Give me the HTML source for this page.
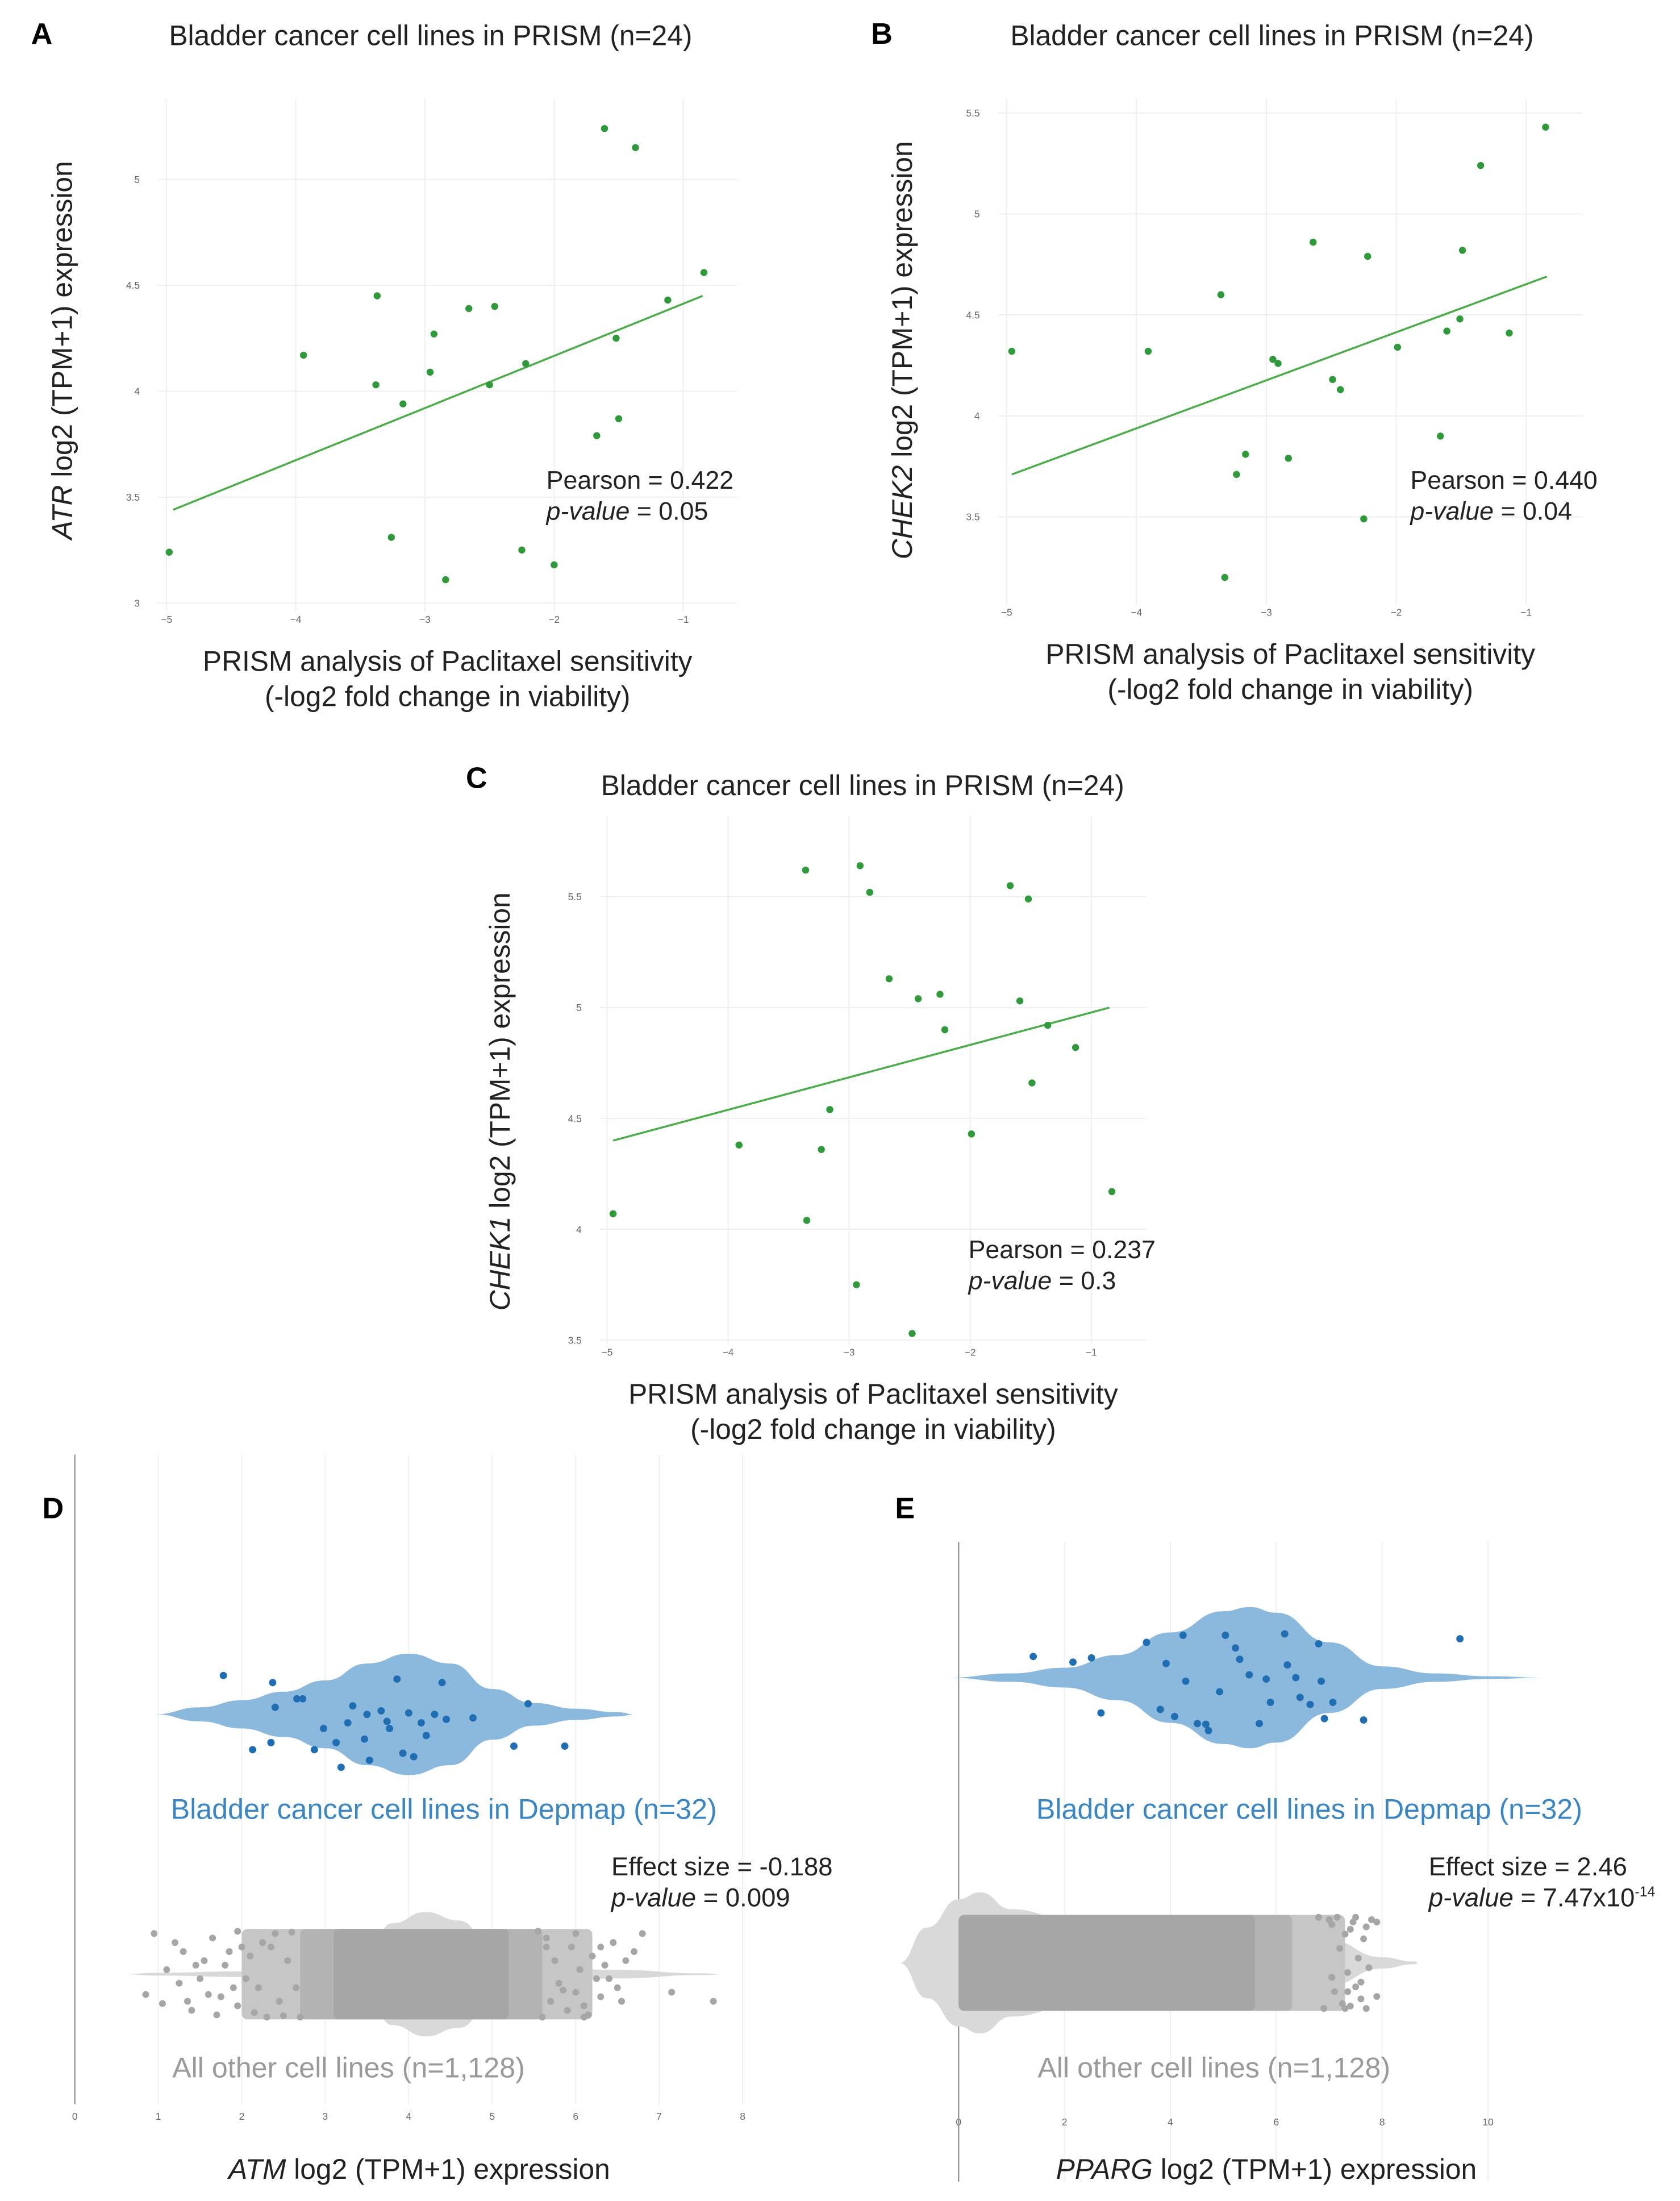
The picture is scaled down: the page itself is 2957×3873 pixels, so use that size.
<!DOCTYPE html>
<html><head><meta charset="utf-8">
<style>
html,body{margin:0;padding:0;background:#fff;}
svg{display:block;font-family:"Liberation Sans",Arial,sans-serif;}
</style></head>
<body>
<svg id="fig" width="2957" height="3873" viewBox="0 0 1190 1558.6" xmlns="http://www.w3.org/2000/svg">
<rect width="1190" height="1558.6" fill="#fff"/>
<text x="22" y="31" font-size="21" font-weight="bold">A</text>
<text x="617" y="31" font-size="21" font-weight="bold">B</text>
<text x="330" y="558" font-size="21" font-weight="bold">C</text>
<text x="30" y="1075" font-size="21" font-weight="bold">D</text>
<text x="634" y="1075" font-size="21" font-weight="bold">E</text>
<text x="305" y="32" font-size="20" text-anchor="middle" fill="#222">Bladder cancer cell lines in PRISM (n=24)</text>
<text x="901" y="32" font-size="20" text-anchor="middle" fill="#222">Bladder cancer cell lines in PRISM (n=24)</text>
<text x="611" y="563" font-size="20" text-anchor="middle" fill="#222">Bladder cancer cell lines in PRISM (n=24)</text>
<g id="layer"></g>
</svg>
<script>
// ---------- Panel A data ----------
const aX=[-4.98,-3.94,-3.37,-3.38,-3.17,-3.26,-2.93,-2.96,-2.84,-2.66,-2.46,-2.50,-2.22,-2.25,-2.00,-1.61,-1.37,-1.52,-1.50,-1.67,-1.12,-0.84];
const aY=[3.24,4.17,4.45,4.03,3.94,3.31,4.27,4.09,3.11,4.39,4.40,4.03,4.13,3.25,3.18,5.24,5.15,4.25,3.87,3.79,4.43,4.56];
const aFit=[[-4.95,3.44],[-0.85,4.45]];
const aXTicks=[-5,-4,-3,-2,-1];
const aYTicks=[3,3.5,4,4.5,5];
const aYTickLabels=["3","3.5","4","4.5","5"];
// ---------- Panel B data ----------
const bX=[-4.96,-3.91,-3.35,-3.32,-3.23,-3.16,-2.95,-2.91,-2.83,-2.64,-2.49,-2.43,-2.25,-2.22,-1.99,-1.66,-1.61,-1.51,-1.49,-1.35,-1.13,-0.85];
const bY=[4.32,4.32,4.60,3.20,3.71,3.81,4.28,4.26,3.79,4.86,4.18,4.13,3.49,4.79,4.34,3.90,4.42,4.48,4.82,5.24,4.41,5.43];
const bFit=[[-4.96,3.71],[-0.84,4.69]];
const bXTicks=[-5,-4,-3,-2,-1];
const bYTicks=[3.5,4,4.5,5,5.5];
const bYTickLabels=["3.5","4","4.5","5","5.5"];
// ---------- Panel C data ----------
const cX=[-4.95,-3.91,-3.36,-3.35,-3.23,-3.16,-2.94,-2.91,-2.83,-2.67,-2.43,-2.48,-2.25,-2.21,-1.99,-1.67,-1.59,-1.52,-1.49,-1.36,-1.13,-0.83];
const cY=[4.07,4.38,5.62,4.04,4.36,4.54,3.75,5.64,5.52,5.13,5.04,3.53,5.06,4.90,4.43,5.55,5.03,5.49,4.66,4.92,4.82,4.17];
const cFit=[[-4.95,4.40],[-0.85,5.0]];
const cXTicks=[-5,-4,-3,-2,-1];
const cYTicks=[3.5,4,4.5,5,5.5];
const cYTickLabels=["3.5","4","4.5","5","5.5"];
// ---------- Panel D data ----------
const dBlueVals=[1.78,2.37,2.40,2.66,2.73,2.13,2.35,2.87,3.13,3.19,2.98,3.27,3.33,3.47,3.50,3.53,3.67,3.74,3.77,3.86,3.93,4.00,4.06,4.15,4.21,4.40,4.31,4.45,4.77,5.43,5.26,5.87];
const dBlueJit=[-0.55,-0.45,-0.1,-0.22,-0.22,0.5,0.4,0.5,0.4,0.75,0.2,0.12,-0.12,0.35,0.0,0.65,-0.05,0.1,0.2,-0.5,0.55,-0.02,0.6,0.12,0.3,-0.45,0.0,0.07,0.05,-0.15,0.45,0.45];
const dBlueProfV=[0.95,1.5,2,2.5,3,3.5,4,4.5,5,5.5,6,6.5,6.72];
const dBlueProfW=[0,5,10,16,24,36,43,36,18,8,4,1.5,0];
const dGreyProfV=[0.55,1,2,3,3.5,3.8,4.2,4.6,5,5.5,6.5,7.5,7.8];
const dGreyProfW=[0,1,2,5,15,36,44,38,20,6,3,0.6,0];
const dGreyDense=[[2.0,6.2],[2.7,5.6],[3.1,5.2]];
const dGreyOutV=[0.95,0.85,1.05,1.2,1.25,1.3,1.4,1.5,1.55,1.65,1.75,1.8,1.9,1.95,2.0,2.05,2.1,2.15,2.2,1.35,1.45,1.6,1.1,2.25,1.7,1.85,1.95,2.3,2.4,2.5,2.6,2.45,2.35,2.55,2.65,2.7,
  5.7,5.75,5.8,5.9,5.95,6.0,6.05,6.1,6.2,6.25,6.3,6.35,6.45,6.5,6.55,6.7,6.8,7.15,7.65,5.65,6.15,6.4,5.85,6.6,5.6,5.55,5.65,6.0,6.1,6.3];
const dGreyOutJ=[-0.9,0.45,0.65,-0.7,0.2,-0.5,0.8,0.1,-0.3,-0.8,0.5,-0.2,0.3,0.7,-0.6,0.1,-0.4,0.85,0.3,0.6,-0.2,0.45,-0.1,-0.7,0.9,-0.5,-0.95,0.95,-0.9,0.92,-0.93,0.6,-0.6,-0.3,0.3,0.95,
  0.6,-0.3,0.2,0.8,-0.6,0.4,-0.1,0.7,-0.4,0.1,0.5,-0.2,-0.7,0.3,0.6,-0.5,-0.9,0.4,0.6,-0.8,0.9,0.1,0.35,-0.3,0.95,-0.95,-0.6,-0.9,0.95,-0.6];
const dTicks=[0,1,2,3,4,5,6,7,8];
// ---------- Panel E data ----------
const eBlueVals=[1.41,2.16,2.51,2.69,3.55,3.92,3.81,4.08,4.24,4.29,4.51,4.72,4.93,5.04,5.23,5.31,5.49,5.68,5.81,5.89,6.16,6.21,6.37,6.45,6.64,6.80,6.85,6.91,7.07,7.65,9.47,4.67];
const eBlueJit=[-0.3,-0.22,-0.28,0.5,-0.5,-0.2,0.45,0.55,-0.6,0.05,0.65,0.75,0.2,-0.6,-0.42,-0.26,-0.04,0.65,0.02,0.35,-0.62,-0.18,0.0,0.28,0.38,-0.48,0.05,0.58,0.35,0.6,-0.55,0.66];
const eBlueProfV=[-0.2,1,2,3,4,5,5.5,6,7,8,9,10,11.1];
const eBlueProfW=[0,3,7,16,32,47,50,46,25,8,3,1,0];
const eGreyProfV=[-1.12,-0.6,0,0.4,1,2,4,6,7,8,8.6,8.7];
const eGreyProfW=[0,25,45,50,38,32,30,25,16,4,1,0];
const eGreyDense=[[0,7.3],[0,6.3],[0,5.6]];
const eGreyOutV=[7.05,7.1,7.2,7.25,7.3,7.35,7.4,7.45,7.5,7.55,7.6,7.65,7.7,7.75,7.8,7.05,7.15,7.4,7.6,7.7,6.9,6.8,7.0,7.3,7.5,7.35,7.9,7.9];
const eGreyOutJ=[-0.8,0.6,-0.3,0.85,-0.6,0.2,0.9,-0.85,0.5,-0.1,0.75,-0.5,0.95,0.1,-0.9,0.3,-0.95,-0.7,0.4,-0.75,0.95,-0.95,-0.9,0.95,-0.95,0.6,0.7,-0.85];
const eTicks=[0,2,4,6,8,10];
const denseFills=['#c6c6c6','#b3b3b3','#a6a6a6'];

const NS="http://www.w3.org/2000/svg";
const layer=document.getElementById('layer');
function mk(tag,attrs,parent){const e=document.createElementNS(NS,tag);for(const k in attrs)e.setAttribute(k,attrs[k]);(parent||layer).appendChild(e);return e;}
function lin(d0,d1,p0,p1){return v=>p0+(v-d0)*(p1-p0)/(d1-d0);}

function scatterPanel(key,X,Y,fit,xt,yt,ytl,sx,sy,box,gene,ytx,yty,statX,statY,pear,pv){
  const g=mk('g',{});
  
  
  xt.forEach(t=>{const l=mk('line',{x1:sx(t),x2:sx(t),y1:box[1],y2:box[3],stroke:'#efefef','stroke-width':0.8},g);
    
    
    const tx=mk('text',{x:sx(t),y:box[3]+8,'font-size':7,'text-anchor':'middle',fill:'#666'},g);tx.textContent='\u2212'+Math.abs(t);
    
    });
  yt.forEach((t,i)=>{const l=mk('line',{x1:box[0],x2:box[2],y1:sy(t),y2:sy(t),stroke:'#efefef','stroke-width':0.8},g);
    
    
    const tx=mk('text',{x:box[0]-13,y:sy(t)+2.5,'font-size':7,'text-anchor':'end',fill:'#666'},g);tx.textContent=ytl[i];
    
    });
  const fl=mk('line',{x1:sx(fit[0][0]),y1:sy(fit[0][1]),x2:sx(fit[1][0]),y2:sy(fit[1][1]),stroke:'#4aad4a','stroke-width':1.4},g);
  
  
  X.forEach((x,i)=>{const c=mk('circle',{cx:sx(x),cy:sy(Y[i]),r:2.5,fill:'#2e9a3a'},g);
    
    });
  const yt2=mk('text',{x:0,y:0,'font-size':20,'text-anchor':'middle',fill:'#222',transform:`translate(${ytx},${yty}) rotate(-90)`},g);
  yt2.innerHTML='<tspan font-style="italic">'+gene+'</tspan> log2 (TPM+1) expression';
  
  
  const cx=(box[0]+box[2])/2;
  const x1=mk('text',{x:cx,y:box[3]+42,'font-size':20,'text-anchor':'middle',fill:'#222'},g);x1.textContent='PRISM analysis of Paclitaxel sensitivity';
  
  
  const x2=mk('text',{x:cx,y:box[3]+67,'font-size':20,'text-anchor':'middle',fill:'#222'},g);x2.textContent='(-log2 fold change in viability)';
  
  
  const s1=mk('text',{x:statX,y:statY,'font-size':18,fill:'#222'},g);s1.textContent='Pearson = '+pear;
  
  
  const s2=mk('text',{x:statX,y:statY+22,'font-size':18,fill:'#222'},g);s2.innerHTML='<tspan font-style="italic">p-value</tspan> = '+pv;
  
  
}
scatterPanel('a',aX,aY,aFit,aXTicks,aYTicks,aYTickLabels,lin(-5,-1,118,484),lin(3,5,427,127),[112,70,522,433],'ATR',51,248,387,346,'0.422','0.05');
scatterPanel('b',bX,bY,bFit,bXTicks,bYTicks,bYTickLabels,lin(-5,-1,713,1081),lin(3.5,5.5,366,80),[707,70,1121,428],'CHEK2',646,248,999,346,'0.440','0.04');
scatterPanel('c',cX,cY,cFit,cXTicks,cYTicks,cYTickLabels,lin(-5,-1,430,773),lin(3.5,5.5,949,635),[425,578,812,952],'CHEK1',361,780,686,891,'0.237','0.3');

function violinPath(pv,pw,sx,cy){
  const top=pv.map((v,i)=>[sx(v),cy-pw[i]]);
  const bot=pv.map((v,i)=>[sx(v),cy+pw[i]]).reverse();
  function seg(pts,start){let d=start?'M'+pts[0][0]+','+pts[0][1]:'L'+pts[0][0]+','+pts[0][1];
    for(let i=1;i<pts.length;i++){const p0=pts[i-1],p=pts[i],mx=(p0[0]+p[0])/2;d+=`C${mx},${p0[1]} ${mx},${p[1]} ${p[0]},${p[1]}`;}return d;}
  return seg(top,true)+seg(bot,false)+'Z';
}
function violinPanel(key,sx,ticks,axisX,axisY0,axisY1,tickY,blueCy,blueV,blueJ,bpv,bpw,greyCy,gpv,gpw,dense,gov,goj,gJitH,labX,statX,effect,pvHtml,gene,titleX){
  const g=mk('g',{});
  
  
  ticks.forEach(t=>{const l=mk('line',{x1:sx(t),x2:sx(t),y1:axisY0,y2:axisY1,stroke:'#f0f0f0','stroke-width':0.8},g);
    
    
    const tx=mk('text',{x:sx(t),y:tickY,'font-size':7,'text-anchor':'middle',fill:'#666'},g);tx.textContent=t;
    
    });
  const ax=mk('line',{x1:axisX,x2:axisX,y1:axisY0,y2:axisY1,stroke:'#999','stroke-width':1},g);
  
  
  const gv=mk('path',{d:violinPath(gpv,gpw,sx,greyCy),fill:'#d9d9d9'},g);
  
  
  dense.forEach((r,i)=>{const rc=mk('rect',{x:sx(r[0]),y:greyCy-gJitH,width:sx(r[1])-sx(r[0]),height:gJitH*2,fill:denseFills[i],rx:4},g);
    
    });
  gov.forEach((v,i)=>{const c=mk('circle',{cx:sx(v),cy:greyCy+goj[i]*gJitH,r:2.4,fill:'#a6a6a6'},g);
    
    });
  const bv=mk('path',{d:violinPath(bpv,bpw,sx,blueCy),fill:'#8bb8dd'},g);
  
  
  blueV.forEach((v,i)=>{const c=mk('circle',{cx:sx(v),cy:blueCy+blueJ[i]*50,r:2.6,fill:'#1f6db3'},g);
    
    });
  const bl=mk('text',{x:labX,y:1288,'font-size':20.2,fill:'#3a86c4'},g);bl.textContent='Bladder cancer cell lines in Depmap (n=32)';
  
  
  const gl=mk('text',{x:labX+1,y:1471,'font-size':20.2,fill:'#9a9a9a'},g);gl.textContent='All other cell lines (n=1,128)';
  
  
  const e1=mk('text',{x:statX,y:1328,'font-size':18.3,fill:'#222'},g);e1.textContent='Effect size = '+effect;
  
  
  const e2=mk('text',{x:statX,y:1350,'font-size':18.3,fill:'#222'},g);e2.innerHTML='<tspan font-style="italic">p-value</tspan> = '+pvHtml;
  
  
  const xt=mk('text',{x:titleX,y:1543,'font-size':20,'text-anchor':'middle',fill:'#222'},g);
  xt.innerHTML='<tspan font-style="italic">'+gene+'</tspan> log2 (TPM+1) expression';
  
  
}
violinPanel('d',lin(0,8,53,526),dTicks,53,1030,1490,1501,1214,dBlueVals,dBlueJit,dBlueProfV,dBlueProfW,1398,dGreyProfV,dGreyProfW,dGreyDense,dGreyOutV,dGreyOutJ,32,121,433,'-0.188','0.009','ATM',297);
violinPanel('e',lin(0,10,679,1054),eTicks,679,1092,1545,1505,1188,eBlueVals,eBlueJit,eBlueProfV,eBlueProfW,1390,eGreyProfV,eGreyProfW,eGreyDense,eGreyOutV,eGreyOutJ,34,734,1012,'2.46','7.47x10<tspan font-size="10" dy="-7">-14</tspan>','PPARG',897);
</script>
</body></html>
